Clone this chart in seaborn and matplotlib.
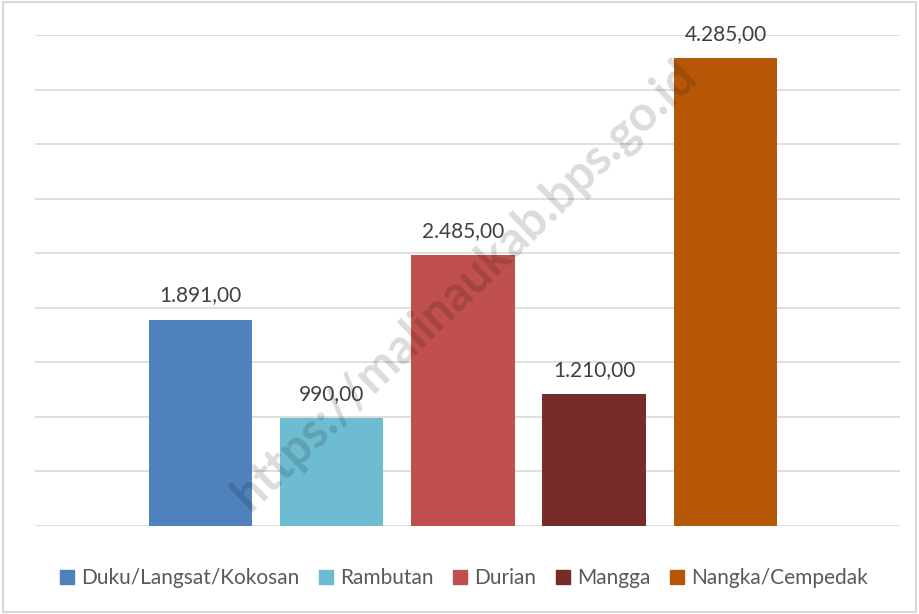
import matplotlib
matplotlib.use('Agg')
import matplotlib.pyplot as plt
import pandas as pd
import seaborn as sns
from matplotlib.patches import Rectangle

# data
categories = ['Duku/Langsat/Kokosan', 'Rambutan', 'Durian', 'Mangga', 'Nangka/Cempedak']
values = [1891, 990, 2485, 1210, 4285]
colors = ['#4F81BD', '#6DBCD1', '#C0504D', '#772C2A', '#B65708']

df = pd.DataFrame({'kategori': categories, 'nilai': values})

sns.set_theme(style='white')
plt.rcParams['font.family'] = ['Lato', 'DejaVu Sans']

fig = plt.figure(figsize=(9.19, 6.14), dpi=100)
ax = fig.add_axes([35/919, 88/614, 865/919, 491/614])

sns.barplot(data=df, x='kategori', y='nilai', hue='kategori', palette=colors,
            dodge=False, width=0.79, saturation=1, legend=False, linewidth=0, ax=ax)

ax.set_ylim(0, 4500)
ax.set_xlim(-1.26, 5.33)
ax.set_yticks(range(0, 4501, 500))
ax.yaxis.grid(True, color='#D9D9D9', linewidth=1.2)
ax.set_axisbelow(True)
ax.set_xticks([])
ax.set_yticklabels([])
ax.tick_params(left=False, bottom=False)
ax.set_xlabel('')
ax.set_ylabel('')
for s in ax.spines.values():
    s.set_visible(False)

for i, v in enumerate(values):
    lbl = f'{v:,.2f}'.replace(',', 'X').replace('.', ',').replace('X', '.')
    ax.text(i, v + 130, lbl, ha='center', va='bottom', fontsize=15, color='#404040')

# legend
handles = [Rectangle((0, 0), 1, 1, color=c) for c in colors]
fig.legend(handles, categories, loc='center', bbox_to_anchor=(0.505, 1 - 578/614), ncol=5,
           frameon=False, fontsize=15, handlelength=0.65, handleheight=0.65,
           handletextpad=0.35, columnspacing=0.95, labelcolor='#595959')

# watermark
fig.text(0.505, 0.535, 'https://malinaukab.bps.go.id', fontsize=35, fontweight='bold',
         color='#000000', alpha=0.14, rotation=44, ha='center', va='center')

# border
fig.patches.append(Rectangle((0.003, 0.003), 0.994, 0.994, transform=fig.transFigure,
                             fill=False, edgecolor='#D9D9D9', linewidth=1.5))

fig.savefig('out.png', dpi=100)
